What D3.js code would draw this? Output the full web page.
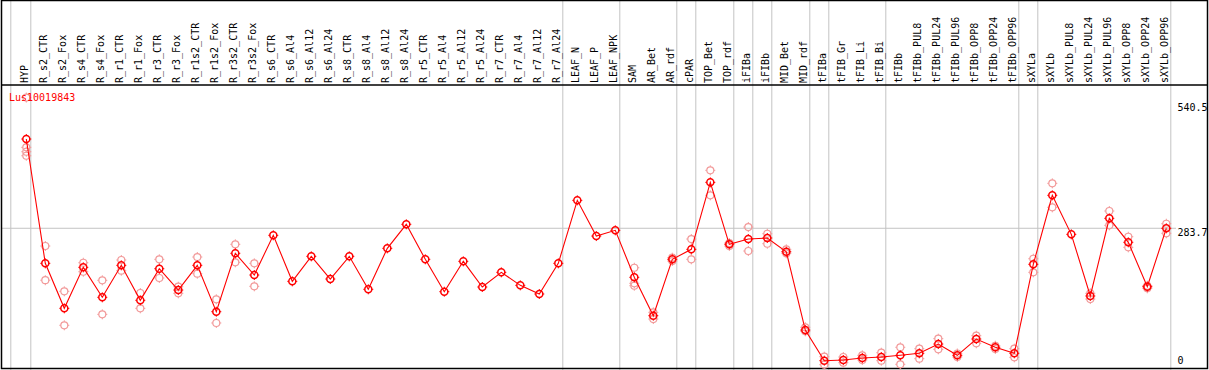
<!DOCTYPE html>
<html>
<head>
<meta charset="utf-8">
<script src="https://cdn.jsdelivr.net/npm/d3@7"></script>
<style>
  body { margin: 0; background: #fff; }
  svg { display: block; }
  text { font-family: "DejaVu Sans Mono", "Liberation Mono", monospace; font-size: 10px; }
</style>
</head>
<body>
<div id="chart"></div>
<script>
// gene shown
const geneName = "Lus10019843";

// samples along the x axis
const categories = [
  "HYP", "R_s2_CTR", "R_s2_Fox", "R_s4_CTR", "R_s4_Fox", "R_r1_CTR", "R_r1_Fox",
  "R_r3_CTR", "R_r3_Fox", "R_r1s2_CTR", "R_r1s2_Fox", "R_r3s2_CTR", "R_r3s2_Fox",
  "R_s6_CTR", "R_s6_Al4", "R_s6_Al12", "R_s6_Al24", "R_s8_CTR", "R_s8_Al4", "R_s8_Al12",
  "R_s8_Al24", "R_r5_CTR", "R_r5_Al4", "R_r5_Al12", "R_r5_Al24", "R_r7_CTR", "R_r7_Al4",
  "R_r7_Al12", "R_r7_Al24", "LEAF_N", "LEAF_P", "LEAF_NPK", "SAM", "AR_Bet", "AR_rdf",
  "cPAR", "TOP_Bet", "TOP_rdf", "iFIBa", "iFIBb", "MID_Bet", "MID_rdf", "tFIBa",
  "tFIB_Gr", "tFIB_Li", "tFIB_Bi", "tFIBb", "tFIBb_PUL8", "tFIBb_PUL24", "tFIBb_PUL96",
  "tFIBb_OPP8", "tFIBb_OPP24", "tFIBb_OPP96", "sXYLa", "sXYLb", "sXYLb_PUL8",
  "sXYLb_PUL24", "sXYLb_PUL96", "sXYLb_OPP8", "sXYLb_OPP24", "sXYLb_OPP96"
];

// mean expression per sample (the connected red line)
const meanValues = [
  466.2, 212.0, 120.0, 203.8, 142.5, 207.9, 136.4, 201.0, 157.4, 207.9, 113.1, 232.5, 188.1,
  269.3, 175.2, 226.3, 179.9, 226.3, 158.9, 242.7, 291.8, 220.2, 154.0, 216.1, 163.6,
  193.6, 167.0, 149.3, 212.0, 340.8, 267.8, 279.5, 183.4, 104.9, 220.2, 240.6, 377.6,
  250.9, 261.7, 263.8, 235.7, 75.6, 12.9, 14.3, 18.4, 20.4, 23.9, 28.0, 47.0, 23.9,
  57.2, 40.3, 28.0, 210.0, 351.1, 271.3, 145.2, 304.0, 255.0, 164.2, 283.6
];

// individual replicates (light circles), empty where only one value exists
const replicateValues = [
  [551, 449.2, 440.2, 432.0], [247.4, 177.5], [154.8, 85.3], [213.2, 194.8], [177.3, 107.7],
  [218.8, 196.9], [151.3, 120.0], [220.2, 182.0], [164.2, 150.7], [224.9, 190.8],
  [138.4, 90.0], [250.9, 214.1], [212.0, 165.0],
  [], [], [], [], [], [], [], [], [], [], [], [], [], [], [], [], [], [], [],
  [203.0, 171.1, 166.2], [111.8, 98.1], [223.5, 216.7], [261.7, 220.2], [402.2, 351.1],
  [253.5, 247.4], [286.2, 237.2], [272.5, 252.1], [240.6, 232.5], [81.2, 73.0],
  [21.1, 4.7], [20.4, 8.8], [23.9, 14.3], [29.2, 12.9], [40.3, 5.5], [37.4, 17.0],
  [57.9, 36.2], [27.6, 20.4], [64.0, 48.5], [43.5, 36.8], [37.4, 19.8],
  [221.4, 193.6], [375.6, 326.5], [], [150.7, 139.0], [319.0, 289.7], [266.4, 244.7],
  [166.2, 160.9], [293.0, 273.4]
];

// right-hand tick labels and the horizontal reference line
const yTicks = [0, 283.7, 540.5];
const yGrid = [283.7];

// gray separators drawn just after these samples
const groupEnds = [
  "HYP", "R_r7_Al24", "LEAF_NPK", "AR_rdf", "cPAR", "TOP_rdf", "iFIBa", "iFIBb",
  "MID_rdf", "tFIBa", "tFIB_Bi", "tFIBb_OPP96", "sXYLa", "sXYLb_OPP96"
];

const W = 1209, H = 370;
const headerH = 85;

const svg = d3.select("#chart").append("svg")
  .attr("width", W)
  .attr("height", H);

const x = d3.scalePoint()
  .domain(categories)
  .range([26.3, 1166.3]);

const y = d3.scaleLinear()
  .domain([0, 540.5])
  .range([367, 102.7]);

const grey = "#c4c4c4";

// vertical group separators (full height, header included)
const sepX = [x(categories[0]) - 15.5].concat(groupEnds.map(d => x(d) + 4.5));
svg.append("g")
  .selectAll("line")
  .data(sepX)
  .enter().append("line")
    .attr("x1", d => d).attr("x2", d => d)
    .attr("y1", 0).attr("y2", H)
    .attr("stroke", grey)
    .attr("stroke-width", 1);

// horizontal reference line
svg.append("g")
  .selectAll("line")
  .data(yGrid)
  .enter().append("line")
    .attr("x1", 1).attr("x2", 1176)
    .attr("y1", d => y(d)).attr("y2", d => y(d))
    .attr("stroke", grey)
    .attr("stroke-width", 1);

// frame and header divider
svg.append("rect")
  .attr("x", 1.5).attr("y", 0.5)
  .attr("width", W - 3).attr("height", H - 2)
  .attr("fill", "none")
  .attr("stroke", "#000")
  .attr("stroke-width", 1.5);
svg.append("line")
  .attr("x1", 1).attr("x2", W - 1)
  .attr("y1", headerH).attr("y2", headerH)
  .attr("stroke", "#000")
  .attr("stroke-width", 1.5);

// rotated sample names in the header
svg.append("g")
  .selectAll("text")
  .data(categories)
  .enter().append("text")
    .attr("transform", d => "translate(" + (x(d) + 2) + "," + (headerH - 2) + ") rotate(-90)")
    .attr("fill", "#000")
    .text(d => d);

// circle marker with little cross ticks
function marker(g, color, sw) {
  const r = 3.5;
  g.append("circle")
    .attr("r", r)
    .attr("fill", "none")
    .attr("stroke", color)
    .attr("stroke-width", sw);
  [[0, -1], [0, 1], [-1, 0], [1, 0]].forEach(function (v) {
    g.append("line")
      .attr("x1", v[0] * r).attr("y1", v[1] * r)
      .attr("x2", v[0] * (r + 1.5)).attr("y2", v[1] * (r + 1.5))
      .attr("stroke", color)
      .attr("stroke-width", 1);
  });
}

// replicates
const reps = [];
replicateValues.forEach(function (vals, i) {
  vals.forEach(v => reps.push({ cat: categories[i], v: v }));
});
svg.append("g")
  .selectAll("g")
  .data(reps)
  .enter().append("g")
    .attr("transform", d => "translate(" + x(d.cat) + "," + y(d.v) + ")")
    .each(function () { marker(d3.select(this), "#f29a9a", 1.2); });

// mean line
const points = categories.map((c, i) => ({ cat: c, v: meanValues[i] }));
svg.append("path")
  .datum(points)
  .attr("fill", "none")
  .attr("stroke", "#ff0000")
  .attr("stroke-width", 1.1)
  .attr("d", d3.line().x(d => x(d.cat)).y(d => y(d.v)));

svg.append("g")
  .selectAll("g")
  .data(points)
  .enter().append("g")
    .attr("transform", d => "translate(" + x(d.cat) + "," + y(d.v) + ")")
    .each(function () { marker(d3.select(this), "#ff0000", 1.5); });

// right-hand value labels
svg.append("g")
  .selectAll("text")
  .data(yTicks)
  .enter().append("text")
    .attr("x", 1177.5)
    .attr("y", d => Math.min(y(d) + 8, 363.5))
    .attr("fill", "#000")
    .text(d => d);

// gene id
svg.append("text")
  .attr("x", 9)
  .attr("y", 101)
  .attr("fill", "#ff0000")
  .text(geneName);
</script>
</body>
</html>
